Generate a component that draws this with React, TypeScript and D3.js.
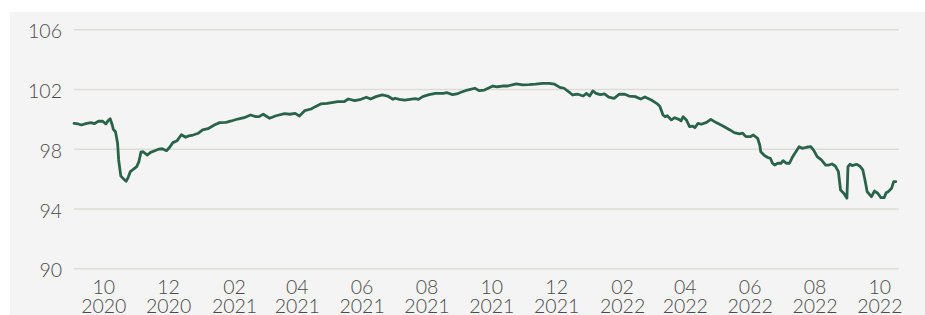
import React, { useEffect, useRef } from 'react';
import * as d3 from 'd3';

// daily index level
const dates = [
  '2020-09-03', '2020-09-07', '2020-09-10', '2020-09-15', '2020-09-19', '2020-09-22', '2020-09-26', '2020-09-30',
  '2020-10-03', '2020-10-05', '2020-10-07', '2020-10-09', '2020-10-10', '2020-10-12', '2020-10-14', '2020-10-15',
  '2020-10-17', '2020-10-19', '2020-10-22', '2020-10-24', '2020-10-26', '2020-10-29', '2020-11-01', '2020-11-03',
  '2020-11-05', '2020-11-07', '2020-11-11', '2020-11-14', '2020-11-18', '2020-11-22', '2020-11-25', '2020-11-29',
  '2020-12-02', '2020-12-05', '2020-12-09', '2020-12-13', '2020-12-17', '2020-12-20', '2020-12-24', '2020-12-29',
  '2021-01-02', '2021-01-07', '2021-01-13', '2021-01-18', '2021-01-24', '2021-01-29', '2021-02-04', '2021-02-10',
  '2021-02-16', '2021-02-21', '2021-02-24', '2021-02-28', '2021-03-06', '2021-03-12', '2021-03-20', '2021-03-25',
  '2021-03-30', '2021-04-03', '2021-04-08', '2021-04-14', '2021-04-18', '2021-04-23', '2021-04-29', '2021-05-05',
  '2021-05-09', '2021-05-15', '2021-05-19', '2021-05-25', '2021-05-31', '2021-06-05', '2021-06-09', '2021-06-14',
  '2021-06-20', '2021-06-25', '2021-06-30', '2021-07-02', '2021-07-06', '2021-07-11', '2021-07-16', '2021-07-21',
  '2021-07-24', '2021-07-28', '2021-08-03', '2021-08-09', '2021-08-16', '2021-08-20', '2021-08-25', '2021-08-29',
  '2021-09-02', '2021-09-08', '2021-09-15', '2021-09-19', '2021-09-24', '2021-10-02', '2021-10-06', '2021-10-11',
  '2021-10-16', '2021-10-24', '2021-10-30', '2021-11-05', '2021-11-11', '2021-11-18', '2021-11-24', '2021-11-29',
  '2021-12-04', '2021-12-08', '2021-12-13', '2021-12-16', '2021-12-21', '2021-12-26', '2021-12-29', '2022-01-01',
  '2022-01-04', '2022-01-07', '2022-01-11', '2022-01-15', '2022-01-19', '2022-01-24', '2022-01-29', '2022-02-03',
  '2022-02-07', '2022-02-13', '2022-02-18', '2022-02-22', '2022-02-28', '2022-03-05', '2022-03-08', '2022-03-11',
  '2022-03-13', '2022-03-15', '2022-03-19', '2022-03-22', '2022-03-26', '2022-03-28', '2022-03-30', '2022-04-02',
  '2022-04-05', '2022-04-08', '2022-04-10', '2022-04-13', '2022-04-16', '2022-04-21', '2022-04-25', '2022-04-30',
  '2022-05-06', '2022-05-13', '2022-05-17', '2022-05-22', '2022-05-25', '2022-05-28', '2022-06-01', '2022-06-04',
  '2022-06-08', '2022-06-10', '2022-06-11', '2022-06-14', '2022-06-17', '2022-06-20', '2022-06-22', '2022-06-24',
  '2022-06-27', '2022-06-30', '2022-07-02', '2022-07-05', '2022-07-08', '2022-07-11', '2022-07-14', '2022-07-17',
  '2022-07-20', '2022-07-24', '2022-07-28', '2022-07-31', '2022-08-03', '2022-08-07', '2022-08-11', '2022-08-14',
  '2022-08-17', '2022-08-20', '2022-08-23', '2022-08-25', '2022-08-28', '2022-08-31', '2022-09-01', '2022-09-03',
  '2022-09-05', '2022-09-09', '2022-09-12', '2022-09-15', '2022-09-17', '2022-09-19', '2022-09-23', '2022-09-26',
  '2022-09-29', '2022-10-02', '2022-10-05', '2022-10-07', '2022-10-09', '2022-10-12', '2022-10-14', '2022-10-16',
];

const values = [
  99.73, 99.69, 99.62, 99.73, 99.78, 99.71, 99.87, 99.87,
  99.69, 99.91, 100.04, 99.62, 99.33, 99.17, 98.4, 97.28,
  96.21, 96.05, 95.85, 96.12, 96.5, 96.66, 96.83, 97.16,
  97.81, 97.83, 97.61, 97.79, 97.9, 98.01, 98.03, 97.9,
  98.13, 98.44, 98.57, 98.97, 98.8, 98.89, 98.95, 99.07,
  99.29, 99.37, 99.62, 99.78, 99.8, 99.89, 100.02, 100.11,
  100.29, 100.18, 100.18, 100.34, 100.07, 100.24, 100.38, 100.34,
  100.4, 100.22, 100.58, 100.69, 100.85, 101.03, 101.07, 101.14,
  101.18, 101.18, 101.36, 101.25, 101.34, 101.48, 101.36, 101.52,
  101.63, 101.56, 101.34, 101.41, 101.34, 101.29, 101.34, 101.38,
  101.34, 101.52, 101.65, 101.74, 101.74, 101.78, 101.65, 101.7,
  101.81, 101.96, 102.08, 101.92, 101.96, 102.23, 102.18, 102.23,
  102.23, 102.37, 102.3, 102.32, 102.35, 102.41, 102.41, 102.35,
  102.14, 102.08, 101.81, 101.63, 101.68, 101.56, 101.74, 101.56,
  101.9, 101.74, 101.65, 101.7, 101.48, 101.41, 101.68, 101.68,
  101.56, 101.52, 101.36, 101.5, 101.29, 101.07, 100.87, 100.29,
  100.18, 100.24, 99.96, 100.11, 100.0, 99.89, 100.18, 99.96,
  99.51, 99.55, 99.44, 99.73, 99.67, 99.8, 100.0, 99.78,
  99.57, 99.29, 99.11, 99.02, 99.07, 98.84, 98.84, 98.95,
  98.73, 98.28, 97.83, 97.61, 97.46, 97.39, 97.06, 96.94,
  97.06, 97.06, 97.23, 97.06, 97.06, 97.5, 97.83, 98.17,
  98.06, 98.13, 98.17, 97.9, 97.5, 97.28, 96.94, 96.94,
  97.01, 96.88, 96.5, 95.27, 95.05, 94.72, 96.83, 96.99,
  96.9, 96.99, 96.88, 96.61, 95.94, 95.16, 94.82, 95.2,
  95.05, 94.76, 94.76, 95.09, 95.16, 95.38, 95.83, 95.83,
];

const yTicks = [90, 94, 98, 102, 106];
const xTicks = [
  '2020-10-01', '2020-12-01', '2021-02-01', '2021-04-01', '2021-06-01', '2021-08-01', '2021-10-01',
  '2021-12-01', '2022-02-01', '2022-04-01', '2022-06-01', '2022-08-01', '2022-10-01',
];
const xDomain = ['2020-09-03', '2022-10-19'];

const W = 925;
const H = 315;

export default function App() {
  const ref = useRef<SVGSVGElement>(null);

  useEffect(() => {
    const svg = d3.select(ref.current);
    svg.selectAll('*').remove();

    const parse = d3.timeParse('%Y-%m-%d');
    const data = dates.map((d, i) => ({ date: parse(d) as Date, value: values[i] }));

    const left = 74;
    const right = 899;
    const top = 29.7;
    const bottom = 268.7;

    const x = d3.scaleTime()
      .domain(xDomain.map((d) => parse(d) as Date))
      .range([left, right]);

    const y = d3.scaleLinear()
      .domain([90, 106])
      .range([bottom, top]);

    // grey panel
    svg.append('rect')
      .attr('x', 10)
      .attr('y', 12)
      .attr('width', W - 10)
      .attr('height', H - 12)
      .attr('fill', '#f4f4f4');

    // horizontal grid lines
    svg.append('g')
      .selectAll('line')
      .data(yTicks)
      .enter()
      .append('line')
      .attr('x1', left)
      .attr('x2', right)
      .attr('y1', (d) => y(d))
      .attr('y2', (d) => y(d))
      .attr('stroke', '#dddcd8')
      .attr('stroke-width', 1.5);

    const font = 'Lato, "Open Sans", sans-serif';

    svg.append('g')
      .selectAll('text')
      .data(yTicks)
      .enter()
      .append('text')
      .attr('x', 62)
      .attr('y', (d) => y(d) + 8.6)
      .attr('text-anchor', 'end')
      .attr('font-family', font)
      .attr('font-weight', 300)
      .attr('font-size', 19.5)
      .attr('fill', '#4a4a4a')
      .text((d) => d);

    const fmtM = d3.timeFormat('%m');
    const fmtY = d3.timeFormat('%Y');
    const xLabels = svg.append('g')
      .selectAll('text')
      .data(xTicks.map((d) => parse(d) as Date))
      .enter()
      .append('text')
      .attr('text-anchor', 'middle')
      .attr('font-family', font)
      .attr('font-weight', 300)
      .attr('font-size', 19.5)
      .attr('fill', '#4a4a4a');
    xLabels.append('tspan')
      .attr('x', (d) => x(d))
      .attr('y', 294)
      .text((d) => fmtM(d));
    xLabels.append('tspan')
      .attr('x', (d) => x(d))
      .attr('y', 313)
      .text((d) => fmtY(d));

    const line = d3.line<{ date: Date; value: number }>()
      .x((d) => x(d.date))
      .y((d) => y(d.value));

    svg.append('path')
      .datum(data)
      .attr('d', line)
      .attr('fill', 'none')
      .attr('stroke', '#29634a')
      .attr('stroke-width', 2.8)
      .attr('stroke-linejoin', 'round')
      .attr('stroke-linecap', 'round');
  }, []);

  return (
    <svg
      ref={ref}
      width={W}
      height={H}
      viewBox={`0 0 ${W} ${H}`}
      style={{ position: 'absolute', left: 0, top: 0, display: 'block', background: '#fff' }}
    />
  );
}
